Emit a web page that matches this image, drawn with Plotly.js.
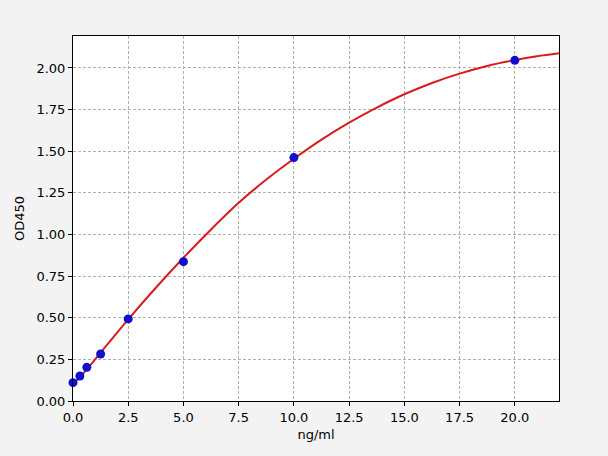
<!DOCTYPE html>
<html>
<head>
<meta charset="utf-8">
<script src="https://cdn.plot.ly/plotly-3.0.1.min.js"></script>
<style>
  html, body { margin: 0; padding: 0; background: #f3f3f3; }
  #chart { width: 608px; height: 456px; }
</style>
</head>
<body>
<div id="chart"></div>
<script>
// standard points (ng/ml vs OD450)
var concentrations = [0, 0.3125, 0.625, 1.25, 2.5, 5, 10, 20];
var odValues = [0.11, 0.15, 0.202, 0.282, 0.493, 0.837, 1.462, 2.046];

// fitted curve
var curveX = [0, 0.625, 1.25, 2.5, 3.75, 5, 6.25, 7.5, 8.75, 10, 11.25, 12.5, 13.75, 15, 16.25, 17.5, 18.75, 20, 21, 22];
var curveY = [0.10, 0.19, 0.29, 0.49, 0.68, 0.86, 1.03, 1.19, 1.33, 1.455, 1.57, 1.672, 1.762, 1.842, 1.91, 1.966, 2.012, 2.047, 2.07, 2.088];

var fitTrace = {
    x: curveX,
    y: curveY,
    mode: 'lines',
    type: 'scatter',
    line: { color: '#d81b1b', width: 2, shape: 'spline' },
    hoverinfo: 'skip'
};

var pointTrace = {
    x: concentrations,
    y: odValues,
    mode: 'markers',
    type: 'scatter',
    marker: { color: '#1010cc', size: 9 },
    cliponaxis: false
};

var axisFont = { family: 'DejaVu Sans', size: 13, color: '#000' };

var layout = {
    width: 608,
    height: 456,
    showlegend: false,
    paper_bgcolor: '#f3f3f3',
    plot_bgcolor: '#ffffff',
    margin: { l: 73, r: 49, t: 36, b: 55 },
    font: axisFont,
    xaxis: {
        range: [0, 22],
        tickvals: [0, 2.5, 5, 7.5, 10, 12.5, 15, 17.5, 20],
        ticktext: ['0.0', '2.5', '5.0', '7.5', '10.0', '12.5', '15.0', '17.5', '20.0'],
        ticks: 'outside',
        ticklen: 4,
        tickcolor: '#000',
        showline: true,
        linecolor: '#000',
        linewidth: 1,
        mirror: true,
        showgrid: true,
        gridcolor: '#b0b0b0',
        griddash: '3px,2px',
        gridwidth: 1,
        zeroline: false,
        title: { text: 'ng/ml', font: axisFont, standoff: 6 }
    },
    yaxis: {
        range: [0, 2.192],
        tickvals: [0, 0.25, 0.5, 0.75, 1, 1.25, 1.5, 1.75, 2],
        ticktext: ['0.00', '0.25', '0.50', '0.75', '1.00', '1.25', '1.50', '1.75', '2.00'],
        ticks: 'outside',
        ticklen: 4,
        tickcolor: '#000',
        showline: true,
        linecolor: '#000',
        linewidth: 1,
        mirror: true,
        showgrid: true,
        gridcolor: '#b0b0b0',
        griddash: '3px,2px',
        gridwidth: 1,
        zeroline: false,
        title: { text: 'OD450', font: axisFont, standoff: 8 }
    }
};

Plotly.newPlot('chart', [fitTrace, pointTrace], layout, { displayModeBar: false, staticPlot: true });
</script>
</body>
</html>
